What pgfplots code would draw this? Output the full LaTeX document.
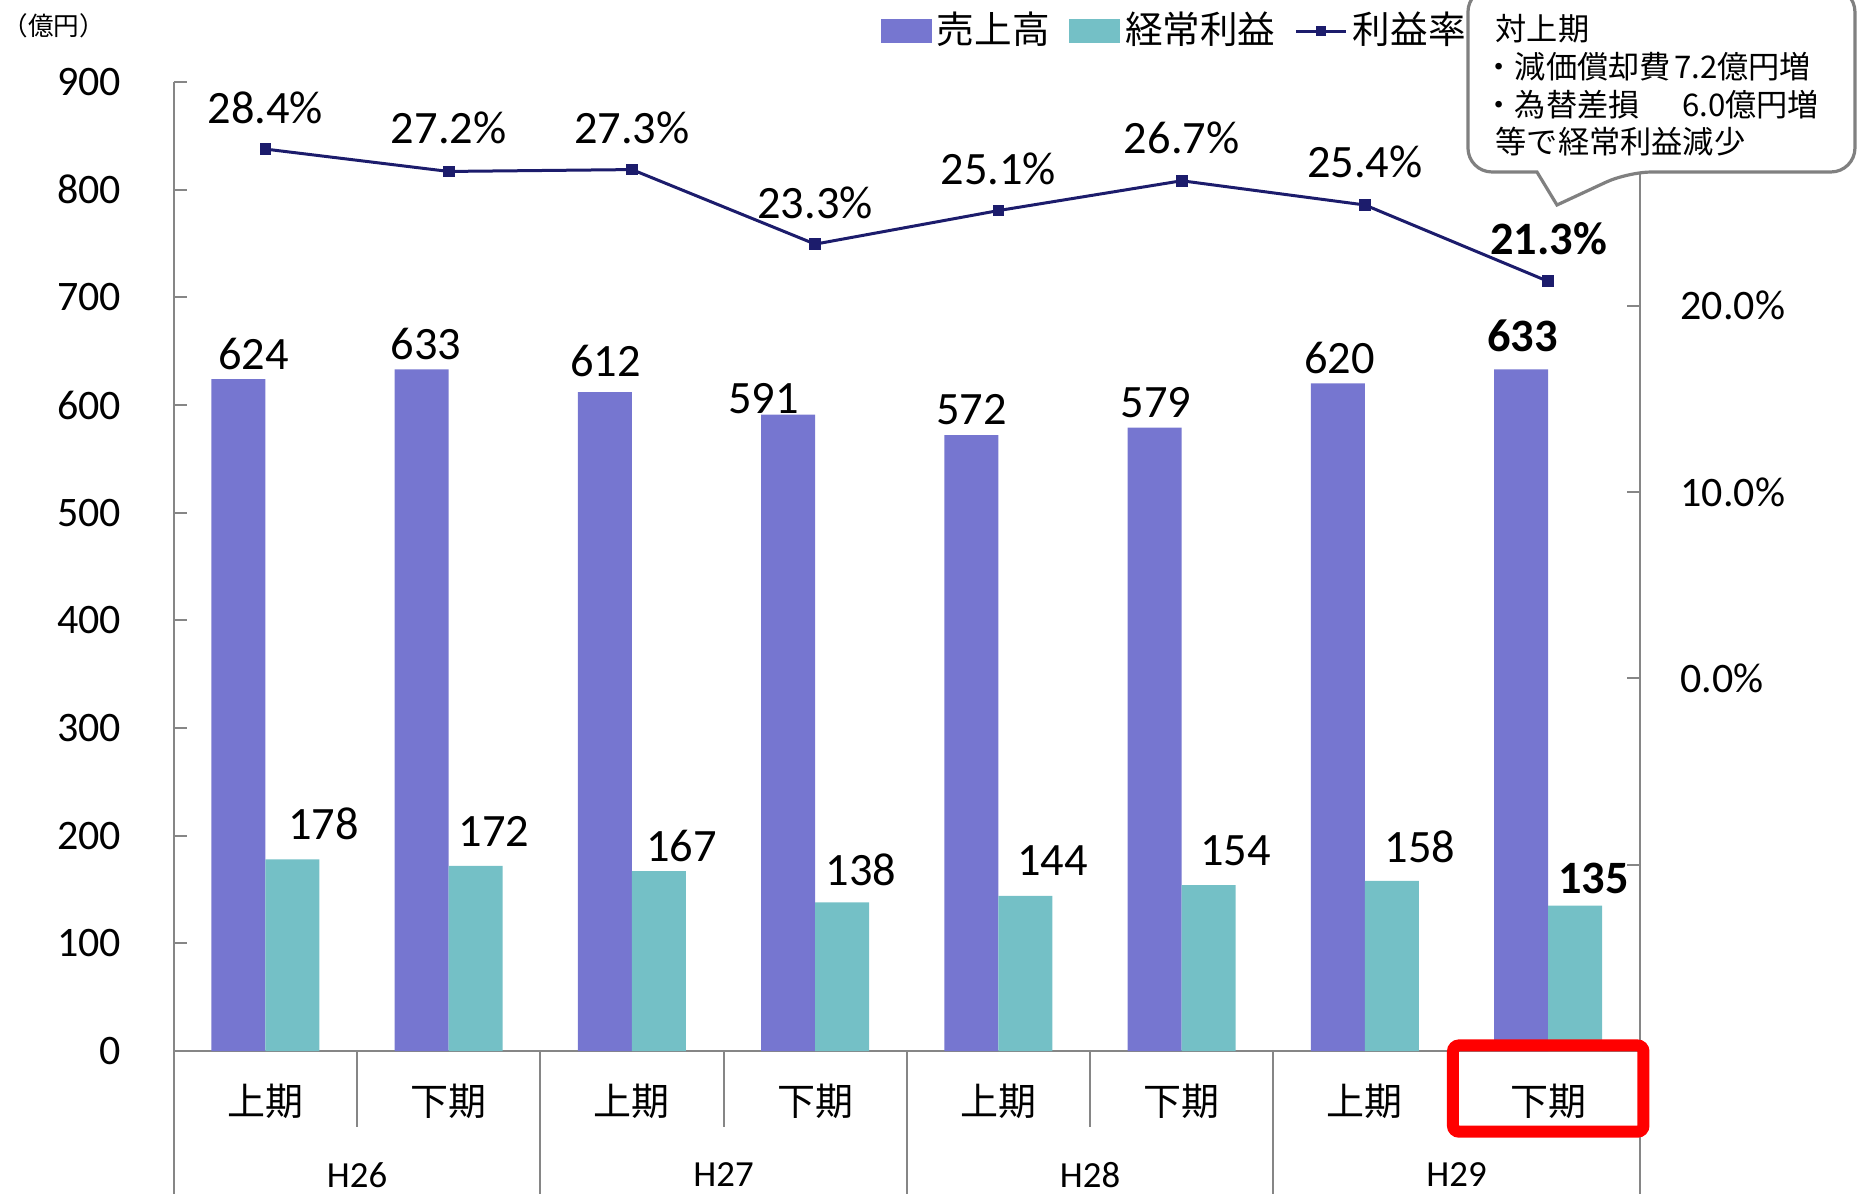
\documentclass[border=0pt]{standalone}
\usepackage{pgfplots}
\pgfplotsset{compat=1.18}
\usepackage{fontspec}
\setmainfont{Carlito}
\newfontfamily\jp{Noto Sans CJK JP}
\definecolor{barP}{RGB}{118,118,208}
\definecolor{barT}{RGB}{116,192,198}
\definecolor{lineN}{RGB}{28,28,108}
\definecolor{axgray}{RGB}{134,134,134}
\definecolor{callgray}{RGB}{128,128,128}
\newcommand\lab{\fontsize{11.6bp}{13bp}\selectfont}
\newcommand\tickf{\fontsize{10.5bp}{12bp}\selectfont}
\newcommand\jpL{\jp\fontsize{9.5bp}{11bp}\selectfont}
\newcommand\jpC{\jp\fontsize{7.8bp}{9bp}\selectfont}
\begin{document}
\begin{tikzpicture}
\path[use as bounding box] (0,0) rectangle (465.75bp,298.5bp);
\begin{axis}[
 at={(43.45bp,35.75bp)}, anchor=south west,
 scale only axis, width=366.5bp, height=242.25bp,
 xmin=-0.5, xmax=7.5, ymin=0, ymax=900,
 axis x line*=bottom, axis y line*=left,
 axis line style={-, draw=axgray, line width=0.55bp},
 xtick=\empty,
 ytick={0,100,...,900},
 tick align=inside, major tick length=3.25bp,
 tick style={draw=axgray, line width=0.5bp},
 yticklabel style={font=\tickf, anchor=east, inner sep=0pt, xshift=-13bp},
 /pgf/number format/assume math mode=true,
 clip=false,
 legend columns=3,
 legend style={at={(0.4822,1.0526)}, anchor=west, draw=none, fill=none,
   inner sep=0pt, outer sep=0pt, column sep=0pt,
   font=\jp\fontsize{9.4bp}{11bp}\selectfont, nodes={inner sep=0pt},
   /tikz/every odd column/.append style={column sep=1.3bp},
   /tikz/every even column/.append style={column sep=4.8bp}},
]
\addplot[ybar, bar width=0.295, bar shift=-0.1475, fill=barP, draw=none,
  legend image code/.code={\fill[barP] (0bp,-3bp) rectangle (12.75bp,3bp);}]
  coordinates {(0,624) (1,633) (2,612) (3,591) (4,572) (5,579) (6,620) (7,633)};
\addlegendentry{売上高}
\addplot[ybar, bar width=0.295, bar shift=0.1475, fill=barT, draw=none,
  legend image code/.code={\fill[barT] (0bp,-3bp) rectangle (12.75bp,3bp);}]
  coordinates {(0,178) (1,172) (2,167) (3,138) (4,144) (5,154) (6,158) (7,135)};
\addlegendentry{経常利益}
\addlegendimage{legend image code/.code={\draw[lineN, line width=0.75bp] (0bp,0bp) -- (12.5bp,0bp); \fill[lineN] (5.15bp,-1.1bp) rectangle (7.35bp,1.1bp);}}
\addlegendentry{利益率}
% bar labels
\node[font=\lab] at (axis cs:-0.065,647.4) {624};
\node[font=\lab] at (axis cs:0.876,656.2) {633};
\node[font=\lab] at (axis cs:1.856,640.8) {612};
\node[font=\lab] at (axis cs:2.719,605.5) {591};
\node[font=\lab] at (axis cs:3.854,595.6) {572};
\node[font=\lab] at (axis cs:4.860,602.2) {579};
\node[font=\lab] at (axis cs:5.860,644.1) {620};
\node[font=\lab\bfseries] at (axis cs:6.859,663.9) {633};
\node[font=\lab] at (axis cs:0.318,210.7) {178};
\node[font=\lab] at (axis cs:1.246,204.0) {172};
\node[font=\lab] at (axis cs:2.271,190.8) {167};
\node[font=\lab] at (axis cs:3.251,168.7) {138};
\node[font=\lab] at (axis cs:4.296,176.5) {144};
\node[font=\lab] at (axis cs:5.295,186.4) {154};
\node[font=\lab] at (axis cs:6.301,189.7) {158};
\node[font=\lab\bfseries] at (axis cs:7.248,159.9) {135};
% category separators
\draw[axgray, line width=0.5bp] (axis cs:-0.5,0) -- ++(0pt,-36bp);
\draw[axgray, line width=0.5bp] (axis cs:1.5,0) -- ++(0pt,-36bp);
\draw[axgray, line width=0.5bp] (axis cs:3.5,0) -- ++(0pt,-36bp);
\draw[axgray, line width=0.5bp] (axis cs:5.5,0) -- ++(0pt,-36bp);
\draw[axgray, line width=0.5bp] (axis cs:7.5,0) -- ++(0pt,-36bp);
\draw[axgray, line width=0.5bp] (axis cs:0.5,0) -- ++(0pt,-19bp);
\draw[axgray, line width=0.5bp] (axis cs:2.5,0) -- ++(0pt,-19bp);
\draw[axgray, line width=0.5bp] (axis cs:4.5,0) -- ++(0pt,-19bp);
\draw[axgray, line width=0.5bp] (axis cs:6.5,0) -- ++(0pt,-19bp);
% category labels
\node[font=\jpL] at ([yshift=-12.5bp]axis cs:0,0) {上期};
\node[font=\jpL] at ([yshift=-12.5bp]axis cs:1,0) {下期};
\node[font=\jpL] at ([yshift=-12.5bp]axis cs:2,0) {上期};
\node[font=\jpL] at ([yshift=-12.5bp]axis cs:3,0) {下期};
\node[font=\jpL] at ([yshift=-12.5bp]axis cs:4,0) {上期};
\node[font=\jpL] at ([yshift=-12.5bp]axis cs:5,0) {下期};
\node[font=\jpL] at ([yshift=-12.5bp]axis cs:6,0) {上期};
\node[font=\jpL] at ([yshift=-12.5bp]axis cs:7,0) {下期};
\node[font=\fontsize{9.2bp}{11bp}\selectfont] at ([yshift=-31bp]axis cs:0.5,0) {H26};
\node[font=\fontsize{9.2bp}{11bp}\selectfont] at ([yshift=-31bp]axis cs:2.5,0) {H27};
\node[font=\fontsize{9.2bp}{11bp}\selectfont] at ([yshift=-31bp]axis cs:4.5,0) {H28};
\node[font=\fontsize{9.2bp}{11bp}\selectfont] at ([yshift=-31bp]axis cs:6.5,0) {H29};
\end{axis}
\begin{axis}[
 at={(43.45bp,35.75bp)}, anchor=south west,
 scale only axis, width=366.5bp, height=242.25bp,
 xmin=-0.5, xmax=7.5, ymin=-20, ymax=32,
 axis y line*=right, axis x line=none,
 axis line style={-, draw=axgray, line width=0.55bp},
 ytick={-20,-10,0,10,20},
 yticklabels={,,0.0\%,10.0\%,20.0\%},
 tick align=inside, major tick length=3.25bp,
 tick style={draw=axgray, line width=0.5bp},
 yticklabel style={font=\tickf, anchor=west, inner sep=0pt, xshift=10bp},
 clip=false,
]
\addplot[lineN, line width=0.75bp, mark=square*, mark size=1.1bp]
  coordinates {(0,28.4) (1,27.2) (2,27.3) (3,23.3) (4,25.1) (5,26.7) (6,25.4) (7,21.3)};
\node[font=\lab] at (axis cs:0,30.64) {28.4\%};
\node[font=\lab] at (axis cs:1,29.55) {27.2\%};
\node[font=\lab] at (axis cs:2,29.55) {27.3\%};
\node[font=\lab] at (axis cs:3,25.54) {23.3\%};
\node[font=\lab] at (axis cs:4,27.32) {25.1\%};
\node[font=\lab] at (axis cs:5,28.98) {26.7\%};
\node[font=\lab] at (axis cs:6,27.71) {25.4\%};
\node[font=\lab\bfseries] at (axis cs:7.002,23.57) {21.3\%};
\end{axis}
\begin{scope}[x=0.25bp, y=-0.25bp, shift={(0,298.5bp)}]
\node[anchor=west, inner sep=0pt, font=\jp\fontsize{6.4bp}{7.5bp}\selectfont] at (2,26) {（億円）};
\draw[red, line width=3bp, rounded corners=1.5bp] (1453,1045.5) rectangle (1643.5,1131.7);
\draw[callgray, line width=0.8bp, fill=white, rounded corners=6bp]
  (1468,-12) -- (1855,-12) -- (1855,172) -- (1628,172) [sharp corners] -- (1557,205) -- (1537,172) [rounded corners=6bp] -- (1468,172) -- cycle;
\node[anchor=west, inner sep=0pt, font=\jpC] at (1495,29) {対上期};
\node[anchor=west, inner sep=0pt, font=\jpC] at (1483,67) {・減価償却費};
\node[anchor=east, inner sep=0pt, font=\jpC] at (1812,67) {7.2億円増};
\node[anchor=west, inner sep=0pt, font=\jpC] at (1483,104.5) {・為替差損};
\node[anchor=east, inner sep=0pt, font=\jpC] at (1820,104.5) {6.0億円増};
\node[anchor=west, inner sep=0pt, font=\jpC] at (1495,142) {等で経常利益減少};
\end{scope}
\end{tikzpicture}
\end{document}
